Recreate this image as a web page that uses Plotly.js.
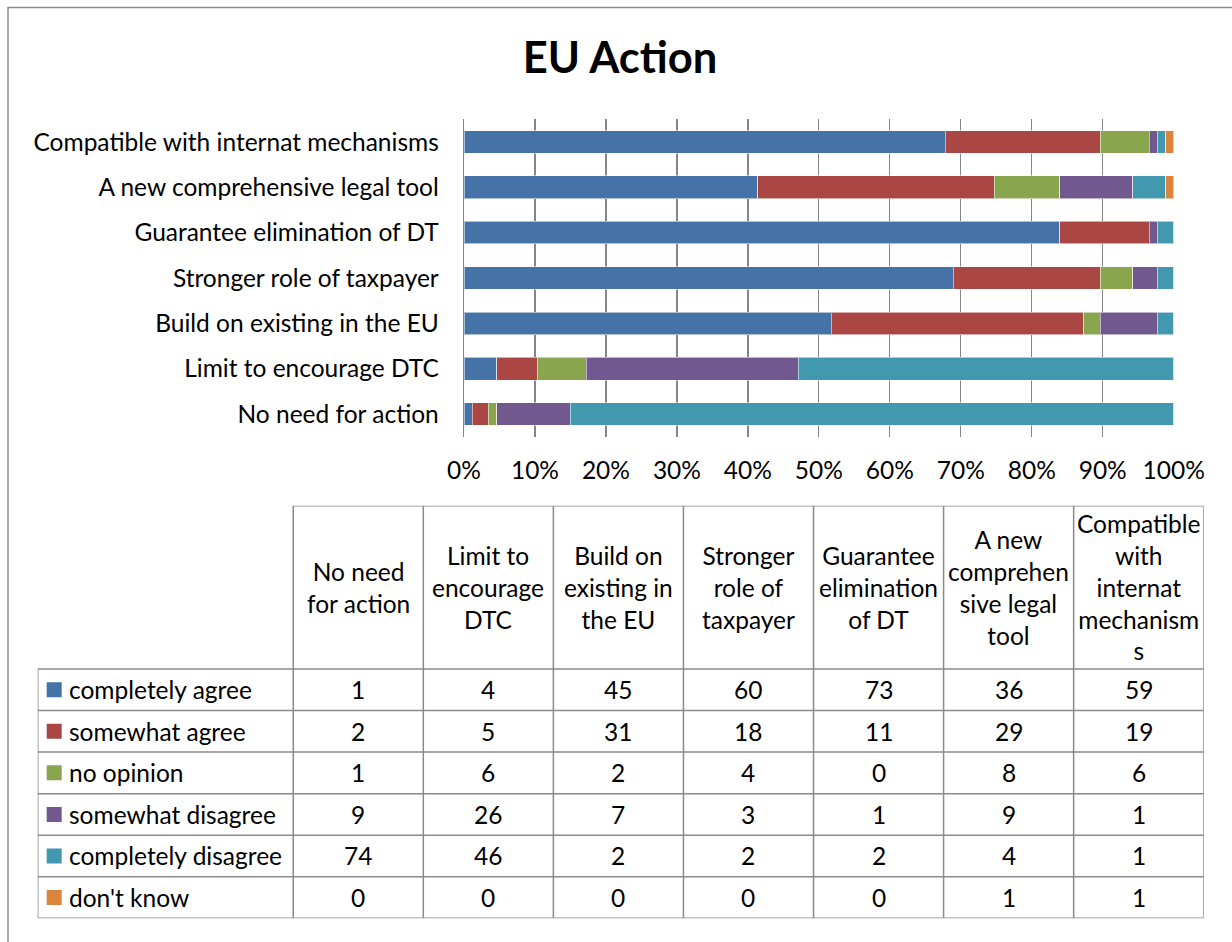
<!DOCTYPE html>
<html>
<head>
<meta charset="utf-8">
<script src="https://cdn.plot.ly/plotly-3.0.1.min.js"></script>
<style>html,body{margin:0;padding:0;background:#fff;}#chart{width:1232px;height:942px;}</style>
</head>
<body>
<div id="chart"></div>
<script>
// ---- data ----
const categories = [
  "No need for action",
  "Limit to encourage DTC",
  "Build on existing in the EU",
  "Stronger role of taxpayer",
  "Guarantee elimination of DT",
  "A new comprehensive legal tool",
  "Compatible with internat mechanisms"
];
const tableHeaders = [
  "No need<br>for action",
  "Limit to<br>encourage<br>DTC",
  "Build on<br>existing in<br>the EU",
  "Stronger<br>role of<br>taxpayer",
  "Guarantee<br>elimination<br>of DT",
  "A new<br>comprehen<br>sive legal<br>tool",
  "Compatible<br>with<br>internat<br>mechanism<br>s"
];
const seriesNames = ["completely agree", "somewhat agree", "no opinion", "somewhat disagree", "completely disagree", "don't know"];
const completelyAgree    = [1, 4, 45, 60, 73, 36, 59];
const somewhatAgree      = [2, 5, 31, 18, 11, 29, 19];
const noOpinion          = [1, 6, 2, 4, 0, 8, 6];
const somewhatDisagree   = [9, 26, 7, 3, 1, 9, 1];
const completelyDisagree = [74, 46, 2, 2, 2, 4, 1];
const dontKnow           = [0, 0, 0, 0, 0, 1, 1];
const xTickVals = [0, 10, 20, 30, 40, 50, 60, 70, 80, 90, 100];
const xTickText = ["0%", "10%", "20%", "30%", "40%", "50%", "60%", "70%", "80%", "90%", "100%"];

// ---- styling ----
const seriesValues = [completelyAgree, somewhatAgree, noOpinion, somewhatDisagree, completelyDisagree, dontKnow];
const colors = ["#4572A7", "#AA4643", "#89A54E", "#71588F", "#4198AF", "#DB843D"];
const FONT = "Lato, 'Open Sans', sans-serif";
const FS = 24.5;
const W = 1232, H = 942;
const px = v => v / W;
const py = v => 1 - v / H;
const gridColor = "#868686";
const tableLine = "#8a8a8a";

const traces = seriesValues.map((vals, i) => ({
  type: "bar",
  orientation: "h",
  name: seriesNames[i],
  y: categories,
  x: vals,
  marker: { color: colors[i], line: { color: "rgba(255,255,255,0.55)", width: 1 } },
  hoverinfo: "skip",
  xaxis: "x",
  yaxis: "y"
}));

// table geometry in table-axis units (column = 1 unit, row = 1 unit)
const legendLeft = -2.465;
const headerTop = -4.43;
const nCols = categories.length;
const nRows = seriesNames.length;

const shapes = [];
const annotations = [];

// outer chart frame
shapes.push({ type: "rect", xref: "paper", yref: "paper", x0: px(8), x1: px(1240), y0: py(7.5), y1: py(960),
  line: { color: "#8c8c8c", width: 1.5 }, fillcolor: "rgba(0,0,0,0)", layer: "above" });

// horizontal table lines
for (let k = 0; k <= nRows; k++) {
  shapes.push({ type: "line", xref: "x2", yref: "y2", x0: legendLeft, x1: nCols - 0.5, y0: k - 0.5, y1: k - 0.5,
    line: { color: tableLine, width: 1.5 } });
}
shapes.push({ type: "line", xref: "x2", yref: "y2", x0: -0.5, x1: nCols - 0.5, y0: headerTop, y1: headerTop,
  line: { color: tableLine, width: 1.5 } });
// vertical table lines
shapes.push({ type: "line", xref: "x2", yref: "y2", x0: legendLeft, x1: legendLeft, y0: -0.5, y1: nRows - 0.5,
  line: { color: tableLine, width: 1.5 } });
for (let k = 0; k <= nCols; k++) {
  shapes.push({ type: "line", xref: "x2", yref: "y2", x0: k - 0.5, x1: k - 0.5, y0: headerTop, y1: nRows - 0.5,
    line: { color: tableLine, width: 1.5 } });
}

// header texts
tableHeaders.forEach((h, c) => {
  annotations.push({ xref: "x2", yref: "y2", x: c, y: (headerTop - 0.5) / 2, text: h, showarrow: false,
    xanchor: "center", yanchor: "middle", align: "center", font: { family: FONT, size: FS, color: "#000" } });
});
// rows: legend keys, labels, values
seriesNames.forEach((name, r) => {
  shapes.push({ type: "rect", xref: "x2", yref: "y2", xsizemode: "pixel", ysizemode: "pixel",
    xanchor: legendLeft + 16.5 / 130.1, yanchor: r, x0: -7.5, x1: 7.5, y0: -7.5, y1: 7.5,
    fillcolor: colors[r], line: { width: 0 } });
  annotations.push({ xref: "x2", yref: "y2", x: legendLeft + 29 / 130.1, y: r, text: name, showarrow: false,
    xanchor: "left", yanchor: "middle", font: { family: FONT, size: FS, color: "#000" } });
  seriesValues[r].forEach((v, c) => {
    annotations.push({ xref: "x2", yref: "y2", x: c, y: r, text: String(v), showarrow: false,
      xanchor: "center", yanchor: "middle", font: { family: FONT, size: FS, color: "#000" } });
  });
});

// invisible trace to anchor table axes
traces.push({ type: "scatter", mode: "markers", x: [0], y: [0], xaxis: "x2", yaxis: "y2",
  marker: { opacity: 0 }, hoverinfo: "skip", showlegend: false });

const layout = {
  width: W, height: H, autosize: false,
  margin: { l: 0, r: 0, t: 0, b: 0, pad: 0 },
  paper_bgcolor: "#fff", plot_bgcolor: "#fff",
  showlegend: false,
  barmode: "stack", barnorm: "percent", bargap: 0.5,
  title: { text: "<b>EU Action</b>", x: 620 / W, xanchor: "center", y: py(58), yanchor: "middle",
    font: { family: FONT, size: 43.5, color: "#000" } },
  font: { family: FONT, size: FS, color: "#000" },
  xaxis: {
    domain: [px(464), px(1173.7)], range: [0, 100], tickvals: xTickVals, ticktext: xTickText,
    showgrid: true, gridcolor: gridColor, gridwidth: 1.3, zeroline: false, showline: false,
    ticks: "", ticklabelstandoff: 17, tickfont: { family: FONT, size: FS, color: "#000" }, anchor: "y", fixedrange: true
  },
  yaxis: {
    domain: [py(436.7), py(119.3)], type: "category", showgrid: false, zeroline: false,
    showline: true, linecolor: gridColor, linewidth: 1.3, ticks: "", ticklabelstandoff: 19,
    tickfont: { family: FONT, size: FS, color: "#000" }, anchor: "x", fixedrange: true
  },
  xaxis2: { domain: [px(37.7), px(1203.7)], range: [legendLeft, nCols - 0.5], visible: false, anchor: "y2", fixedrange: true },
  yaxis2: { domain: [py(918.3), py(505.7)], range: [nRows - 0.5, headerTop], visible: false, anchor: "x2", fixedrange: true },
  shapes: shapes,
  annotations: annotations
};

Plotly.newPlot("chart", traces, layout, { displayModeBar: false, staticPlot: true });
</script>
</body>
</html>
